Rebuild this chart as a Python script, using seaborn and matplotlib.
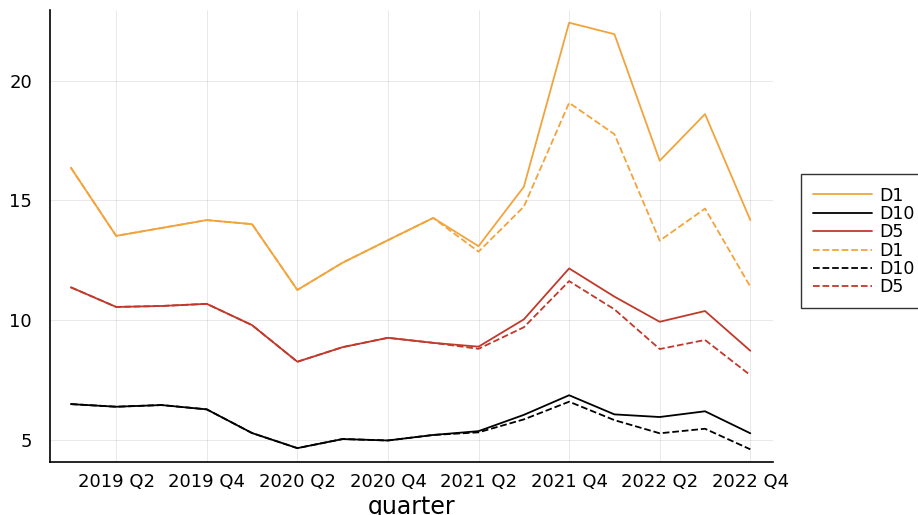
import seaborn as sns
import matplotlib.pyplot as plt
import pandas as pd

quarters = [f"{y} Q{q}" for y in (2019, 2020, 2021, 2022) for q in (1, 2, 3, 4)]
tick_labels = ["2019 Q2", "2019 Q4", "2020 Q2", "2020 Q4",
               "2021 Q2", "2021 Q4", "2022 Q2", "2022 Q4"]

# solid series
d1_solid = [16.37, 13.52, 13.85, 14.18, 14.01, 11.26, 12.40, 13.34,
            14.27, 13.09, 15.57, 22.43, 21.95, 16.66, 18.61, 14.18]
d10_solid = [6.49, 6.38, 6.45, 6.27, 5.28, 4.65, 5.03, 4.97,
             5.20, 5.36, 6.04, 6.86, 6.06, 5.95, 6.19, 5.27]
d5_solid = [11.37, 10.55, 10.59, 10.68, 9.79, 8.26, 8.87, 9.26,
            9.05, 8.89, 10.03, 12.16, 10.98, 9.93, 10.38, 8.72]

# dashed series
d1_dash = [16.37, 13.52, 13.85, 14.18, 14.01, 11.26, 12.40, 13.34,
           14.27, 12.86, 14.74, 19.08, 17.77, 13.32, 14.66, 11.40]
d10_dash = [6.49, 6.38, 6.45, 6.27, 5.28, 4.65, 5.03, 4.97,
            5.20, 5.31, 5.85, 6.59, 5.82, 5.27, 5.46, 4.60]
d5_dash = [11.37, 10.55, 10.59, 10.68, 9.79, 8.26, 8.87, 9.26,
           9.05, 8.80, 9.70, 11.63, 10.45, 8.79, 9.17, 7.70]

ORANGE = "#f2a43c"
RED = "#c1392b"
BLACK = "#000000"

series = [
    ("D1", d1_solid, ORANGE, "-"),
    ("D10", d10_solid, BLACK, "-"),
    ("D5", d5_solid, RED, "-"),
    ("D1", d1_dash, ORANGE, "--"),
    ("D10", d10_dash, BLACK, "--"),
    ("D5", d5_dash, RED, "--"),
]

sns.set_style("white")
plt.rcParams["font.family"] = ["DejaVu Sans"]
plt.rcParams["text.color"] = "black"

fig = plt.figure(figsize=(9.18, 5.15), dpi=100)
ax = fig.add_axes([0.0545, 0.1029, 0.7875, 0.8777])

xpos = list(range(len(quarters)))
for name, vals, color, ls in series:
    df = pd.DataFrame({"x": xpos, "value": vals})
    sns.lineplot(data=df, x="x", y="value", color=color, linestyle=ls,
                 linewidth=1.3, label=name, ax=ax)

ax.set_xlim(-0.46, 15.5)
ax.set_ylim(4.07, 22.96)
ax.set_xticks(range(1, 16, 2))
ax.set_xticklabels(tick_labels)
ax.set_yticks([5, 10, 15, 20])
ax.tick_params(axis="both", direction="in", length=5, width=1, labelsize=13,
               colors="black")
ax.tick_params(axis="x", pad=8)
ax.tick_params(axis="y", pad=13)
ax.grid(True, color="#000000", alpha=0.1, linewidth=0.6)
for s in ("top", "right"):
    ax.spines[s].set_visible(False)
for s in ("left", "bottom"):
    ax.spines[s].set_color("black")
    ax.spines[s].set_linewidth(1.2)

ax.set_ylabel("")
ax.set_xlabel("quarter", fontsize=17, labelpad=3, color="black")

leg = ax.legend(loc="center left", bbox_to_anchor=(1.039, 0.488), borderaxespad=0,
                fontsize=12.5, handlelength=3.4, handletextpad=0.4,
                labelspacing=0.02, borderpad=0.7, frameon=True, fancybox=False)
leg.get_frame().set_edgecolor("black")
leg.get_frame().set_linewidth(1.0)

fig.savefig("out.png", dpi=100)
